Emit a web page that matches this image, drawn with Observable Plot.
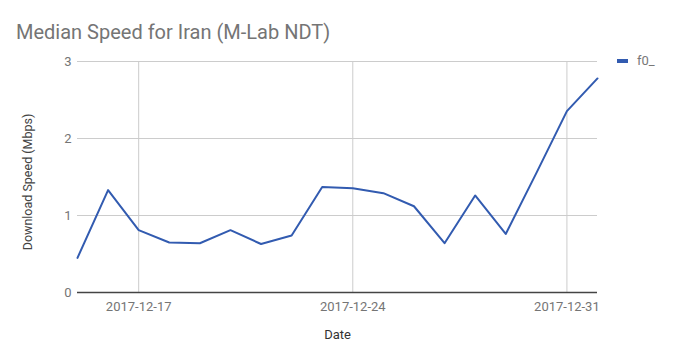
<!DOCTYPE html>
<html><head><meta charset="utf-8">
<script src="https://cdn.jsdelivr.net/npm/d3@7"></script>
<script src="https://cdn.jsdelivr.net/npm/@observablehq/plot@0.6"></script>
<style>
body{margin:0;background:#fff;font-family:Roboto,sans-serif;}
#wrap{position:relative;width:680px;height:364px;overflow:hidden;}
#title{position:absolute;left:16px;top:22px;font-size:20px;line-height:20px;color:#757575;white-space:nowrap;z-index:2;}
#legend{position:absolute;left:617px;top:53px;font-size:13px;line-height:16px;color:#777;display:flex;align-items:center;z-index:2;}
#legend .sw{display:inline-block;width:11px;height:4px;background:#325bb0;margin-right:9px;}
#chart{position:absolute;left:0;top:48px;z-index:1;}
</style>
</head><body>
<div id="wrap">
  <div id="title"></div>
  <div id="legend"><span class="sw"></span><span id="legtext"></span></div>
  <div id="chart"></div>
</div>
<script>
const titleText = "Median Speed for Iran (M-Lab NDT)";
const seriesName = "f0_";
const xLabel = "Date";
const yLabel = "Download Speed (Mbps)";
const dates = ["2017-12-15","2017-12-16","2017-12-17","2017-12-18","2017-12-19","2017-12-20","2017-12-21","2017-12-22","2017-12-23","2017-12-24","2017-12-25","2017-12-26","2017-12-27","2017-12-28","2017-12-29","2017-12-30","2017-12-31","2018-01-01"];
const speeds = [0.45,1.33,0.81,0.65,0.64,0.81,0.63,0.74,1.37,1.355,1.29,1.12,0.64,1.26,0.76,1.55,2.355,2.78];
const xTicks = ["2017-12-17","2017-12-24","2017-12-31"];
const yTicks = [0,1,2,3];

document.getElementById("title").textContent = titleText;
document.getElementById("legtext").textContent = seriesName;

const parse = d3.utcParse("%Y-%m-%d");
const data = dates.map((d,i)=>({date: parse(d), value: speeds[i]}));
const xt = xTicks.map(parse);

const chart = Plot.plot({
  width: 680,
  height: 316,
  marginLeft: 77,
  marginRight: 83,
  marginTop: 13,
  marginBottom: 72,
  style: {fontFamily: "Roboto, sans-serif", fontSize: "13px", color: "#757575", background: "transparent"},
  x: {type: "utc", domain: [data[0].date, data[data.length-1].date]},
  y: {domain: [0, 3]},
  marks: [
    Plot.gridY(yTicks.filter(d=>d!==0), {stroke: "#cccccc", strokeOpacity: 1}),
    Plot.gridX(xt, {stroke: "#cccccc", strokeOpacity: 1}),
    Plot.axisY(yTicks, {tickSize: 0, tickPadding: 6, label: null, tickFormat: d3.format("d"), fill: "#757575"}),
    Plot.axisX(xt, {tickSize: 0, tickPadding: 9, label: null, tickFormat: d3.utcFormat("%Y-%m-%d"), fill: "#757575"}),
    Plot.ruleY([0], {stroke: "#444", strokeWidth: 1.5}),
    Plot.line(data, {x: "date", y: "value", stroke: "#325bb0", strokeWidth: 2}),
    Plot.text([xLabel], {frameAnchor: "bottom", dy: 46, fill: "#333", fontSize: 13}),
    Plot.text([yLabel], {frameAnchor: "left", textAnchor: "middle", rotate: -90, dx: -50, dy: 5, fill: "#444", fontSize: 12.5})
  ]
});
document.getElementById("chart").appendChild(chart);
</script>
</body></html>
